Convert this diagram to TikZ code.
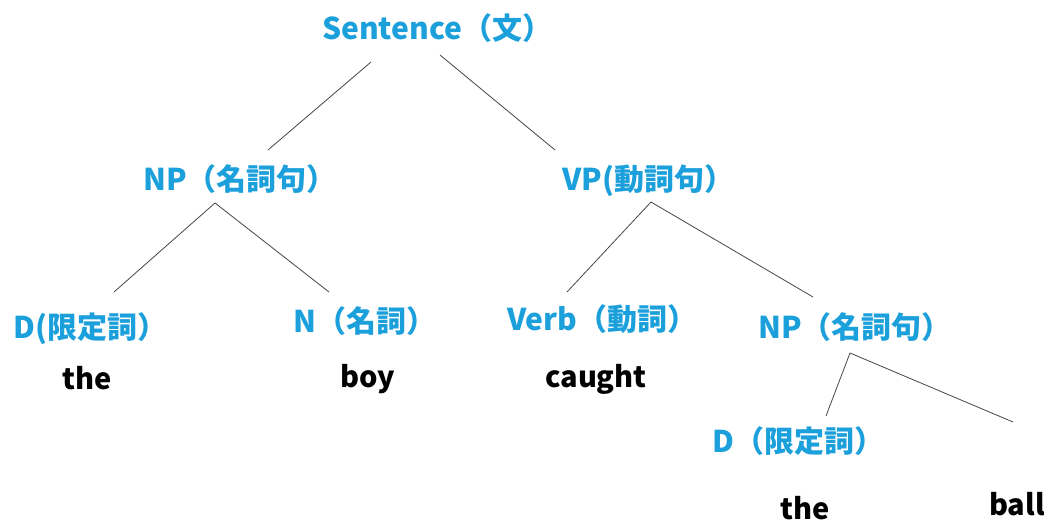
\documentclass[tikz,border=0pt]{standalone}
\usepackage{fontspec}
\setmainfont{Noto Sans CJK JP}
\definecolor{tblue}{RGB}{28,160,220}
\definecolor{tline}{RGB}{70,70,70}
\begin{document}
\begin{tikzpicture}[x=1pt,y=-1pt,
  lab/.style={anchor=base west,inner sep=0pt,text=tblue,font=\fontsize{30}{32}\selectfont\bfseries},
  word/.style={anchor=base west,inner sep=0pt,text=black,font=\fontsize{29}{31}\selectfont\bfseries},
  edge/.style={draw=tline,line width=0.8pt}]
\useasboundingbox[fill=white] (0,0) rectangle (1044,524);
\node[lab] (S) at (322,40) {Sentence（文）};
\node[lab] (NPa) at (143,190) {NP（名詞句）};
\node[lab] (VP) at (562,190) {VP(動詞句）};
\node[lab] (Da) at (13,338) {D(限定詞）};
\node[lab] (N) at (293,332) {N（名詞）};
\node[lab] (V) at (507,330) {Verb（動詞）};
\node[lab] (NPb) at (758,338) {NP（名詞句）};
\node[lab] (Db) at (712,452) {D（限定詞）};
\node[word] (the1) at (62,389) {the};
\node[word] (boy) at (340,387) {boy};
\node[word] (caught) at (545,387) {caught};
\node[word] (the2) at (780,519) {the};
\node[word] (ball) at (989,515) {ball};
% connectors (shifts relative to base west anchors)
\draw[edge] ([shift={(49,22)}]S.base west) -- ([shift={(125,-40)}]NPa.base west);
\draw[edge] ([shift={(118,15)}]S.base west) -- ([shift={(-7,-40)}]VP.base west);
\draw[edge] ([shift={(72,13)}]NPa.base west) -- ([shift={(101,-46)}]Da.base west);
\draw[edge] ([shift={(72,13)}]NPa.base west) -- ([shift={(36,-40)}]N.base west);
\draw[edge] ([shift={(89,12)}]VP.base west) -- ([shift={(60,-38)}]V.base west);
\draw[edge] ([shift={(89,12)}]VP.base west) -- ([shift={(55,-41)}]NPb.base west);
\draw[edge] ([shift={(92,15)}]NPb.base west) -- ([shift={(114,-36)}]Db.base west);
\draw[edge] ([shift={(92,15)}]NPb.base west) -- ([shift={(24,-93)}]ball.base west);
\end{tikzpicture}
\end{document}
